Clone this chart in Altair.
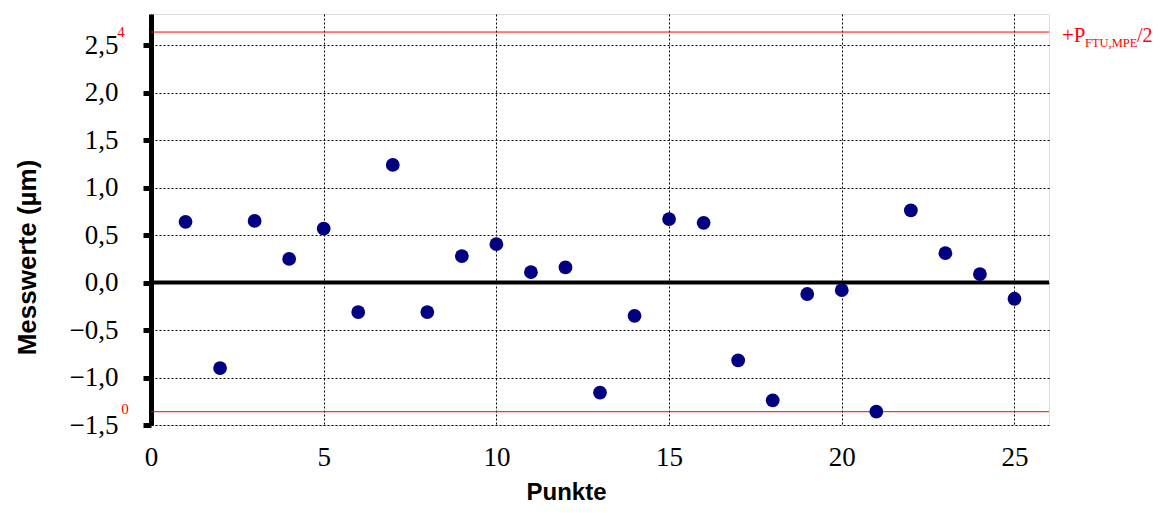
import altair as alt
import pandas as pd

punkte = list(range(1, 26))
messwerte = [0.64, -0.90, 0.65, 0.25, 0.57, -0.31, 1.24, -0.31, 0.28, 0.405,
             0.11, 0.16, -1.16, -0.35, 0.67, 0.63, -0.82, -1.24, -0.12, -0.08,
             -1.36, 0.76, 0.31, 0.09, -0.17]
grenze_oben = 2.64
grenze_unten = -1.36
y_ticks = [-1.5, -1.0, -0.5, 0.0, 0.5, 1.0, 1.5, 2.0, 2.5]
x_ticks = [0, 5, 10, 15, 20, 25]

W, H = 898, 411
df = pd.DataFrame({"Punkte": punkte, "Messwerte": messwerte})

xs = alt.Scale(domain=[0, 26], nice=False, zero=False)
ys = alt.Scale(domain=[-1.5, 2.83], nice=False, zero=False)

serif = "Liberation Serif"
sans = "Liberation Sans"

points = alt.Chart(df).mark_circle(size=190, color="#000080", opacity=1).encode(
    x=alt.X("Punkte:Q", scale=xs,
            axis=alt.Axis(values=x_ticks, title="Punkte", ticks=False, domain=False,
                          grid=True, gridColor="black", gridDash=[2, 2], gridOpacity=1,
                          labelFont=serif, labelFontSize=27, labelColor="black",
                          labelPadding=19, labelFlush=False,
                          titleFont=sans, titleFontSize=24, titleFontWeight="bold",
                          titleColor="black", titleX=415, titleY=74,
                          titleBaseline="alphabetic", titleAlign="center")),
    y=alt.Y("Messwerte:Q", scale=ys,
            axis=alt.Axis(values=y_ticks, title="Messwerte (µm)",
                          labelExpr="replace(format(datum.value, '.1f'), '.', ',')",
                          tickSize=8, tickWidth=5, tickColor="black",
                          domainWidth=5, domainColor="black",
                          grid=True, gridColor="black", gridDash=[2, 2], gridOpacity=1,
                          labelFont=serif, labelFontSize=27, labelColor="black",
                          labelPadding=25, labelFlush=False,
                          titleFont=sans, titleFontSize=26, titleFontWeight="bold",
                          titleColor="black", titleX=-124, titleY=243,
                          titleBaseline="middle", titleAlign="center", titleAngle=-90)),
)

zero_df = pd.DataFrame({"y": [0.0]})
zero_line = alt.Chart(zero_df).mark_rule(color="black", strokeWidth=4).encode(
    y=alt.Y("y:Q", scale=ys))

lim_df = pd.DataFrame({"y": [grenze_oben, grenze_unten]})
lim_lines = alt.Chart(lim_df).mark_rule(color="#ff0000", strokeWidth=1).encode(
    y=alt.Y("y:Q", scale=ys))

sup_df = pd.DataFrame({"y": [grenze_oben], "t": ["4"]})
sup4 = alt.Chart(sup_df).mark_text(font=serif, fontSize=15, color="#ff0000",
                                   align="center", baseline="middle", dy=0).encode(
    x=alt.value(-30), y=alt.Y("y:Q", scale=ys), text="t:N")
sub_df = pd.DataFrame({"y": [grenze_unten], "t": ["0"]})
sup0 = alt.Chart(sub_df).mark_text(font=serif, fontSize=15, color="#ff0000",
                                   align="center", baseline="middle", dy=-3).encode(
    x=alt.value(-26), y=alt.Y("y:Q", scale=ys), text="t:N")

lab_df = pd.DataFrame({"y": [grenze_oben], "a": ["+P"], "b": ["FTU,MPE"], "c": ["/2"]})
lab_a = alt.Chart(lab_df).mark_text(font=serif, fontSize=21, color="#ff0000",
                                    align="left", baseline="alphabetic", dy=10).encode(
    x=alt.value(911), y=alt.Y("y:Q", scale=ys), text="a:N")
lab_b = alt.Chart(lab_df).mark_text(font=serif, fontSize=12.5, color="#ff0000",
                                    align="left", baseline="alphabetic", dy=15).encode(
    x=alt.value(934), y=alt.Y("y:Q", scale=ys), text="b:N")
lab_c = alt.Chart(lab_df).mark_text(font=serif, fontSize=20, color="#ff0000",
                                    align="left", baseline="alphabetic", dy=10).encode(
    x=alt.value(986), y=alt.Y("y:Q", scale=ys), text="c:N")

chart = alt.layer(zero_line, lim_lines, points, sup4, sup0, lab_a, lab_b, lab_c).properties(
    width=W, height=H,
    autosize=alt.AutoSizeParams(type="none"),
    padding={"left": 143, "top": 6, "right": 105, "bottom": 80},
).configure_view(stroke="black", strokeWidth=1).configure(background="white")

chart.save("out.html", embed_options={"renderer": "svg", "actions": False})
